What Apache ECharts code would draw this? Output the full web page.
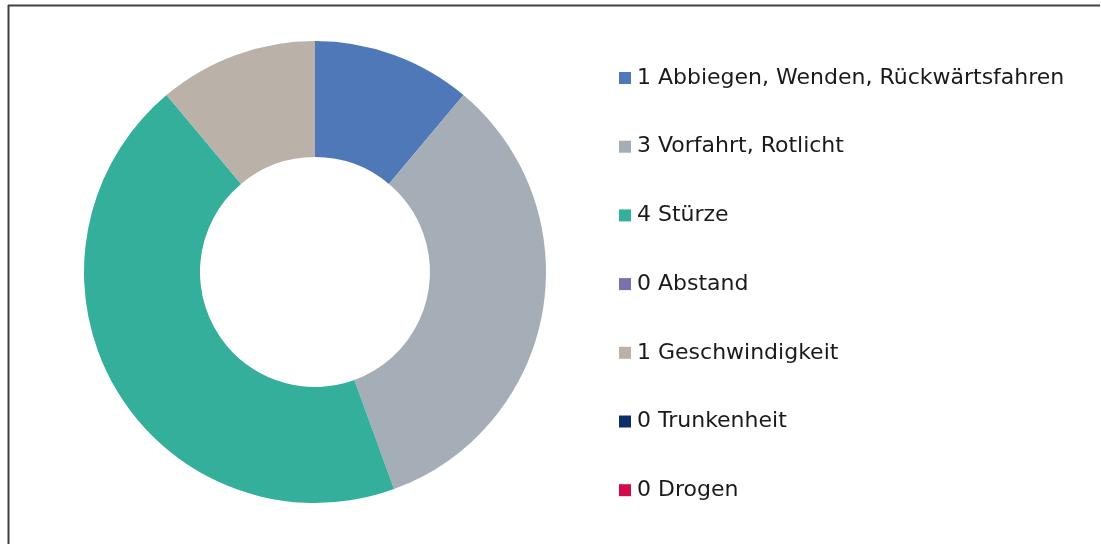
<!DOCTYPE html>
<html>
<head>
<meta charset="utf-8">
<script src="https://cdn.jsdelivr.net/npm/echarts@6/dist/echarts.min.js"></script>
<style>
html,body{margin:0;padding:0;background:#fff;}
#chart{width:1101px;height:544px;}
</style>
</head>
<body>
<div id="chart"></div>
<script>
const categories = ['Abbiegen, Wenden, Rückwärtsfahren','Vorfahrt, Rotlicht','Stürze','Abstand','Geschwindigkeit','Trunkenheit','Drogen'];
const values = [1, 3, 4, 0, 1, 0, 0];
const colors = ['#4E78B8','#A5ADB6','#33AF9C','#7B70AE','#BAB1A9','#0B2F68','#D50A4B'];

const labelOf = {};
categories.forEach((c, i) => { labelOf[c] = values[i] + ' ' + c; });

const chart = echarts.init(document.getElementById('chart'));
chart.setOption({
  animation: false,
  backgroundColor: '#fff',
  color: colors,
  graphic: [
    { type: 'line', shape: { x1: 8.5, y1: 5, x2: 8.5, y2: 544 }, style: { stroke: '#404040', lineWidth: 2 } },
    { type: 'line', shape: { x1: 8, y1: 5.5, x2: 1100, y2: 5.5 }, style: { stroke: '#404040', lineWidth: 2 } }
  ],
  legend: {
    orient: 'vertical',
    left: 614,
    top: 62,
    itemWidth: 12,
    itemHeight: 12,
    itemGap: 46.7,
    icon: 'rect',
    formatter: n => labelOf[n],
    textStyle: { fontFamily: 'DejaVu Sans', fontSize: 22, lineHeight: 22, color: '#1a1a1a', padding: [0, 0, 0, 1] },
    data: categories
  },
  series: [{
    type: 'pie',
    center: [315, 272],
    radius: [115, 231],
    startAngle: 90,
    clockwise: true,
    label: { show: false },
    labelLine: { show: false },
    itemStyle: { borderWidth: 0 },
    emphasis: { disabled: true },
    data: categories.map((c, i) => ({ name: c, value: values[i] }))
  }]
});
</script>
</body>
</html>
